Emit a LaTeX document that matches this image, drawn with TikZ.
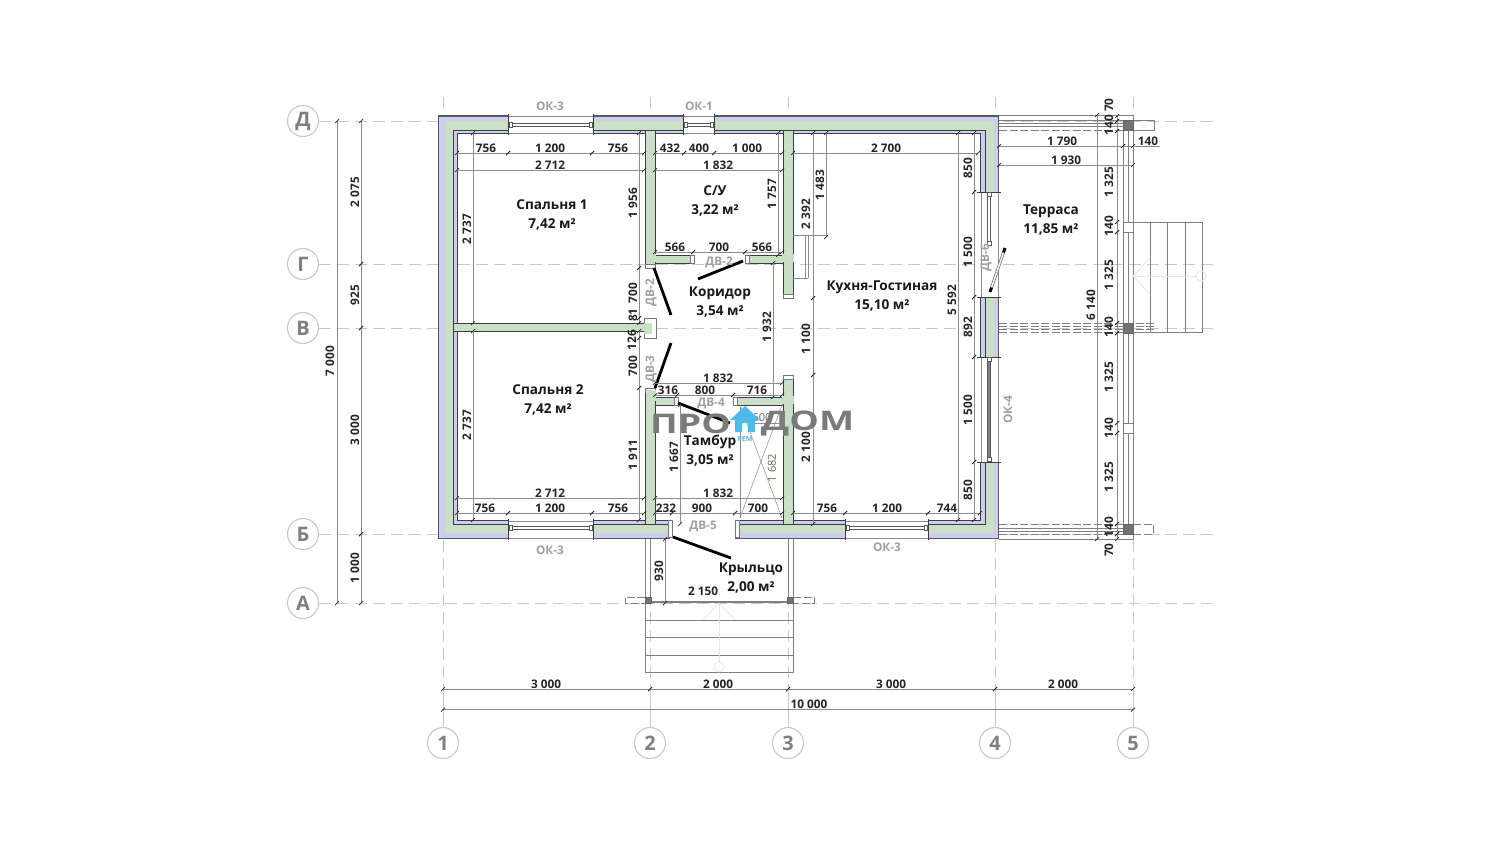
\documentclass[tikz,border=0pt]{standalone}
\usepackage{fontspec}
\newfontfamily\dimfont{Open Sans}
\newfontfamily\markfont{Open Sans}[FakeStretch=1.38]
\newfontfamily\lightfont{Open Sans}
\usetikzlibrary{positioning}
\definecolor{wallgreen}{HTML}{C9E0C6}
\definecolor{walllav}{HTML}{CDCDEC}
\definecolor{walledge}{HTML}{3C3C48}
\definecolor{gridgray}{HTML}{C8C8C8}
\definecolor{taggray}{HTML}{A0A0A0}
\definecolor{stairlight}{HTML}{E4E4E4}
\definecolor{housblue}{HTML}{4FB9E9}
\tikzstyle{gridline} = [draw=gridgray, line width=0.8pt, dash pattern=on 12pt off 6pt]
\tikzstyle{gridsolid} = [draw=gridgray, line width=0.7pt]
\tikzstyle{bubble} = [circle, draw=gridgray, line width=1.1pt, fill=white, minimum size=31pt, inner sep=0pt,
    text=gray, font=\dimfont\bfseries\fontsize{20}{22}\selectfont]
\tikzstyle{wall} = [fill=wallgreen, draw=walledge, line width=0.7pt]
\tikzstyle{wallcap} = [fill=white, draw=walledge!70, line width=0.6pt]
\tikzstyle{thinline} = [draw=black!45, line width=0.5pt]
\tikzstyle{terrace} = [draw=black!50, line width=0.7pt]
\tikzstyle{terdash} = [draw=black!50, line width=0.7pt, dash pattern=on 8pt off 2.5pt]
\tikzstyle{post} = [fill=black!55, draw=black!60, line width=0.5pt]
\tikzstyle{whitepost} = [fill=white, draw=black!50, line width=0.6pt]
\tikzstyle{leaf} = [draw=black, line width=2.8pt]
\tikzstyle{rod} = [fill=white, draw=black!65, line width=0.6pt]
\tikzstyle{dimline} = [draw=black!45, line width=0.55pt]
\tikzstyle{dimtick} = [draw=black!85, line width=0.7pt]
\tikzstyle{dimlabel} = [inner sep=0pt, text=black!85, font=\dimfont\bfseries\fontsize{11.8}{14}\selectfont]
\tikzstyle{room} = [inner sep=0pt, align=center, text=black!90, font=\dimfont\bfseries\fontsize{13.6}{19}\selectfont]
\tikzstyle{tag} = [inner sep=0pt, text=taggray, font=\dimfont\bfseries\fontsize{11.8}{14}\selectfont]
\tikzstyle{faint} = [inner sep=0pt, text=black!60, font=\lightfont\fontsize{11}{12}\selectfont]
\tikzstyle{watermark} = [inner sep=0pt, text=black!52, font=\markfont\bfseries\fontsize{27}{30}\selectfont]
% dimension lines: from, to, position of line, position of text, text
\newcommand{\hdim}[5]{
    \draw [dimline] (#1,#3) -- (#2,#3);
    \draw [dimtick] (#1,#3) +(-2,2) -- +(2,-2);
    \draw [dimtick] (#2,#3) +(-2,2) -- +(2,-2);
    \node [dimlabel] at (#4,#3-4.8) {#5};
}
\newcommand{\vdim}[6][6]{
    \draw [dimline] (#2,#3) -- (#2,#4);
    \draw [dimtick] (#2,#3) +(-2,2) -- +(2,-2);
    \draw [dimtick] (#2,#4) +(-2,2) -- +(2,-2);
    \node [dimlabel, rotate=90] at (#2-#1,#5) {#6};
}
\begin{document}
\begin{tikzpicture}[x=1pt, y=-1pt]
    \useasboundingbox [fill=white] (0,0) rectangle (1500,849);
        % Grid
    \foreach \yy in {121,264,328,534,603}
        \draw [gridline] (319,\yy) -- (1218,\yy);
    \foreach \xx in {443,650,788,995,1133} {
        \draw [gridline] (\xx,97) -- (\xx,116);
        \draw [gridline] (\xx,540) -- (\xx,690);
        \draw [gridsolid] (\xx,690) -- (\xx,728);
    }
    \node [bubble] (rowD) at (303,121) {Д};
    \node [bubble] (rowG) at (303,264) {Г};
    \node [bubble] (rowV) at (303,328) {В};
    \node [bubble] (rowB) at (303,534) {Б};
    \node [bubble] (rowA) at (303,603) {А};
    \node [bubble] (col1) at (443,743) {1};
    \node [bubble] (col2) at (650,743) {2};
    \node [bubble] (col3) at (788,743) {3};
    \node [bubble] (col4) at (995,743) {4};
    \node [bubble] (col5) at (1133,743) {5};
        % Terrace
    \draw [terrace] (999,115.5) -- (1133,115.5) -- (1133,539) -- (999,539);
    \draw [terrace] (999,120) -- (1123,120);
    \draw [terrace] (999,123) -- (1123,123);
    \draw [terrace] (999,126.5) -- (1123,126.5);
    \draw [terdash] (999,130) -- (1123,130);
    \draw [terrace] (1123,130) -- (1123,524);
    \draw [terrace] (1128,130) -- (1128,524);
    \foreach \yy in {323,326,329,332}
        \draw [terdash] (999,\yy) -- (1154,\yy);
    \foreach \yy in {524,534}
        \draw [terdash] (999,\yy) -- (1123,\yy);
    \foreach \yy in {528,531}
        \draw [terrace] (999,\yy) -- (1123,\yy);
    \draw [terrace] (1133,120) -- (1154,120) -- (1154,130) -- (1133,130);
    \draw [terdash] (1133,524) -- (1153,524) -- (1153,534) -- (1133,534);
    \fill [post] (1123,120) rectangle (1133,130);
    \fill [post] (1123,323) rectangle (1133,333);
    \fill [post] (1123,524) rectangle (1133,534);
    \draw [whitepost] (1123,222) rectangle (1133,232);
    \draw [whitepost] (1123,423) rectangle (1133,433);
        % Stairs
    \draw [terrace] (1133,222) -- (1202,222) -- (1202,332) -- (1133,332);
    \foreach \xx in {1150,1167,1185}
        \draw [terrace] (\xx,222) -- (\xx,332);
    \draw [stairlight, line width=0.7pt] (1196,276) -- (1133,276);
    \draw [stairlight, line width=0.7pt] (1150,258) -- (1133,276) -- (1150,294);
    \draw [stairlight, line width=0.7pt] (1201,276) circle (5);
    \draw [terrace] (645,539) -- (645,672) -- (793,672) -- (793,539);
    \draw [terrace] (650,539) -- (650,603);
    \draw [terrace] (788,539) -- (788,603);
    \foreach \yy in {620,637,655}
        \draw [terrace] (645,\yy) -- (793,\yy);
    \draw [stairlight, line width=0.7pt] (719,662) -- (719,603);
    \draw [stairlight, line width=0.7pt] (703,620) -- (719,603) -- (735,620);
    \draw [stairlight, line width=0.7pt] (719,667) circle (5);
    \draw [terdash] (645,597) -- (625,597) -- (625,603) -- (645,603);
    \draw [terdash] (793,597) -- (814,597) -- (814,603) -- (793,603);
    \draw [draw=black!50, line width=1.6pt] (650,602) -- (788,602);
    \fill [post] (645,597) rectangle (651,603);
    \fill [post] (787,597) rectangle (793,603);
        % Outer walls
    \fill [walllav] (438.5,116) rectangle (998.5,538.5);
    \draw [draw=walledge!85, line width=1.4pt] (438.5,116) rectangle (998.5,538.5);
    \fill [wallgreen] (445,121) rectangle (994,533);
    \fill [walllav] (453,130) rectangle (985,524);
    \fill [white] (457,133) rectangle (980,520);
    \draw [draw=walledge, line width=0.9pt] (457,133) rectangle (980,520);
    \draw [draw=walledge, line width=0.6pt] (453,130) rectangle (985,524);
    \foreach \yy in {264,328}
        \draw [gridline] (458,\yy) -- (979,\yy);
        % Openings in horizontal walls
    \foreach \xa/\xb/\ya/\yb/\ra/\rb in {508/593/114/135/123.5/126.5, 683/714/114/135/123.5/126.5,
            508/593/519/540/526.5/529.5, 845/928/519/540/526.5/529.5} {
        \fill [white] (\xa,\ya) rectangle (\xb,\yb);
        \draw [thinline] (\xa,\ya+2) -- (\xb,\ya+2);
        \draw [thinline] (\xa,\yb-2) -- (\xb,\yb-2);
        \draw [draw=walledge, line width=0.8pt] (\xa,\ya) -- (\xa,\yb);
        \draw [draw=walledge, line width=0.8pt] (\xb,\ya) -- (\xb,\yb);
        \draw [rod] (\xa+2,\ra) rectangle (\xb-2,\rb);
        \draw [rod] (\xa+1,\ra-1) rectangle +(3,5);
        \draw [rod] (\xb-4,\ra-1) rectangle +(3,5);
    }
        % Openings in the right wall
    \foreach \ya/\yb in {192/297, 357/462} {
        \fill [white] (978,\ya) rectangle (1001,\yb);
        \draw [thinline] (981,\ya) -- (981,\yb);
        \draw [thinline] (998,\ya) -- (998,\yb);
        \draw [draw=walledge, line width=0.8pt] (977,\ya) -- (1001,\ya);
        \draw [draw=walledge, line width=0.8pt] (977,\yb) -- (1001,\yb);
    }
    \draw [rod] (987.5,195) rectangle (990.5,243);
    \draw [rod] (987,192.5) rectangle +(4,4);
    \draw [rod] (987,241) rectangle +(4,4);
    \draw [fill=black!50, draw=black!65, line width=0.5pt] (987.5,359) rectangle (990.5,460);
    \draw [rod] (987,357.5) rectangle +(4,4);
    \draw [rod] (987,457.5) rectangle +(4,4);
    \draw [draw=black!60, line width=2.8pt] (990,292) -- (1005,248);
    \draw [draw=white, line width=1.4pt] (990.5,290.5) -- (1004.5,249.5);
    \draw [draw=black, line width=2.8pt] (990,292) -- (991.5,287.5);
    \draw [draw=black, line width=2.8pt] (1003.5,252.5) -- (1005,248);
        % Front door opening
    \fill [white] (670,518) rectangle (735,541);
    \draw [wallcap] (668,520) rectangle (672,537);
    \draw [wallcap] (735,520) rectangle (739,537);
        % Inner walls
    \draw [wall] (645,130) rectangle (655,264);
    \draw [wallcap] (645,264) rectangle (655,268);
    \draw [wall] (783,130) rectangle (793,294);
    \draw [wallcap] (783,294) rectangle (793,298);
    \draw [wall] (655,255) rectangle (691,263);
    \draw [wallcap] (690,255) rectangle (694,263);
    \draw [wall] (748,255) rectangle (783,263);
    \draw [wallcap] (745,255) rectangle (749,263);
    \draw [wall] (453,323) rectangle (645,331);
    \draw [wallcap] (644,318) rectangle (656,338);
    \fill [wallgreen] (644,323) rectangle (652,334);
    \draw [wall] (645,392) rectangle (655,524);
    \draw [wallcap] (645,388) rectangle (655,392);
    \draw [wall] (783,379) rectangle (793,524);
    \draw [wallcap] (783,375) rectangle (793,379);
    \draw [wall] (655,397) rectangle (674,405);
    \draw [wallcap] (674,397) rectangle (678,405);
    \draw [wall] (736,397) rectangle (783,405);
    \draw [wallcap] (733,397) rectangle (737,405);
    \fill [wallgreen] (646,390) rectangle (656,401);
    \fill [wallgreen] (646,254) rectangle (656,262);
    \fill [wallgreen] (782,254) rectangle (794,262);
    \fill [wallgreen] (782,396) rectangle (794,404);
        % Door leaves
    \draw [leaf] (654,268) -- (671,315);
    \draw [leaf] (671,343) -- (655,388);
    \draw [leaf] (743,261) -- (698,279);
    \draw [leaf] (678,403) -- (730,423);
    \draw [leaf] (673,537) -- (731,558);
        % Closet
    \draw [thinline] (740,405) -- (740,518);
    \draw [thinline] (740,405) -- (782,518);
    \draw [thinline] (740,518) -- (782,405);
    \draw [thinline] (748,423) -- (782,423);
        % Kitchen niche
    \draw [thinline] (793,235) -- (826,235);
    \draw [thinline] (793,278) -- (808,278);
    \draw [thinline] (805,235) -- (805,278);
    \draw [thinline] (808,235) -- (808,278);
        % Outer dimensions
    \hdim{443}{650}{689}{546}{3 000}
    \hdim{650}{788}{689}{718}{2 000}
    \hdim{788}{995}{689}{891}{3 000}
    \hdim{995}{1133}{689}{1063}{2 000}
    \hdim{443}{1133}{709.5}{809}{10 000}
    \vdim[7]{337}{121}{603}{361}{7 000}
    \vdim{361}{121}{264}{192}{2 075}
    \vdim{361}{264}{328}{295}{925}
    \vdim{361}{328}{534}{430}{3 000}
    \vdim{361}{534}{603}{568}{1 000}
        % Spalnya 1
    \hdim{457}{508}{153}{486}{756}
    \hdim{508}{592}{153}{550}{1 200}
    \hdim{592}{644}{153}{618}{756}
    \hdim{457}{644}{170}{550}{2 712}
    \vdim{473}{133}{323}{229}{2 737}
    \vdim{639}{133}{268}{203}{1 956}
    \vdim{639}{268}{318}{293}{700}
    \vdim{639}{318}{323}{315}{81}
        % Spalnya 2
    \hdim{457}{644}{498}{550}{2 712}
    \hdim{457}{508}{513}{485}{756}
    \hdim{508}{592}{513}{550}{1 200}
    \hdim{592}{644}{513}{618}{756}
    \vdim{473}{331}{520}{425}{2 737}
    \vdim[7]{639}{331}{338}{340}{126}
    \vdim{639}{338}{388}{366}{700}
    \vdim{639}{388}{520}{455}{1 911}
        % C/U
    \hdim{655}{684}{153}{670}{432}
    \hdim{684}{714}{153}{699}{400}
    \hdim{714}{782}{153}{747}{1 000}
    \hdim{655}{782}{170}{718}{1 832}
    \hdim{655}{693}{252}{675}{566}
    \hdim{693}{745}{252}{719}{700}
    \hdim{745}{782}{252}{762}{566}
    \vdim{778}{133}{255}{194}{1 757}
        % Koridor and Tambur
    \vdim{773}{263}{397}{327}{1 932}
    \hdim{655}{782}{383}{718}{1 832}
    \hdim{655}{677}{395}{668}{316}
    \hdim{677}{733}{395}{705}{800}
    \hdim{733}{782}{395}{757}{716}
    \vdim{680}{405}{524}{457}{1 667}
    \hdim{655}{782}{498}{718}{1 832}
    \hdim{655}{672}{513}{666}{232}
    \hdim{672}{735}{513}{702}{900}
    \hdim{735}{782}{513}{758}{700}
        % Kitchen
    \hdim{793}{978}{153}{886}{2 700}
    \hdim{793}{845}{513}{827}{756}
    \hdim{845}{928}{513}{887}{1 200}
    \hdim{928}{980}{513}{947}{744}
    \vdim[7]{813}{133}{298}{214}{2 392}
    \vdim[7]{813}{298}{375}{339}{1 100}
    \vdim[7]{813}{375}{524}{447}{2 100}
    \vdim{826}{133}{237}{185}{1 483}
    \vdim{958}{133}{520}{300}{5 592}
    \vdim{974}{133}{192}{168}{850}
    \vdim{974}{192}{297}{252}{1 500}
    \vdim{974}{297}{357}{327}{892}
    \vdim{974}{357}{462}{410}{1 500}
    \vdim{974}{462}{520}{490}{850}
        % Terrace dimensions
    \hdim{999}{1123}{146}{1062}{1 790}
    \hdim{1123}{1133}{146}{1148}{140}
    \draw [dimline] (1133,146) -- (1160,146);
    \hdim{999}{1133}{165}{1066}{1 930}
    \vdim{1097}{115}{539}{305}{6 140}
    \vdim[8]{1117}{116}{121}{105}{70}
    \vdim[8]{1117}{121}{131}{125}{140}
    \vdim[8]{1117}{131}{222}{182}{1 325}
    \vdim[8]{1117}{222}{232}{226}{140}
    \vdim[8]{1117}{232}{323}{275}{1 325}
    \vdim[8]{1117}{323}{333}{327}{140}
    \vdim[8]{1117}{333}{423}{377}{1 325}
    \vdim[8]{1117}{423}{433}{428}{140}
    \vdim[8]{1117}{433}{524}{477}{1 325}
    \vdim[8]{1117}{524}{534}{527}{140}
    \vdim[8]{1117}{534}{539}{550}{70}
        % Porch dimensions
    \vdim{665}{539}{603}{571}{930}
    \node [dimlabel] (porchw) at (703,591.7) {2 150};
        % Rooms
    \node [room] (spalnya1) at (552,214.5) {Спальня 1\\7,42 м²};
    \node [room] (spalnya2) at (548,399.5) {Спальня 2\\7,42 м²};
    \node [room] (su) at (715,200.5) {С/У\\3,22 м²};
    \node [room] (koridor) at (720,302.5) {Коридор\\3,54 м²};
    \node [room] (kuhnya) at (882,296.5) {Кухня-Гостиная\\15,10 м²};
    \node [room] (terrasa) at (1051,220.5) {Терраса\\11,85 м²};
    \node [room] (krylco) at (751,578.5) {Крыльцо\\2,00 м²};
        % Tags
    \node [tag] (okn1) at (550,106.7) {ОК-3};
    \node [tag] (okn2) at (699,106.7) {ОК-1};
    \node [tag] (okn3) at (550,550.7) {ОК-3};
    \node [tag] (okn4) at (887,547.7) {ОК-3};
    \node [tag, rotate=90] (okn5) at (1008,410) {ОК-4};
    \node [tag] (dv2a) at (719,262.7) {ДВ-2};
    \node [tag, rotate=90] (dv2b) at (651,293) {ДВ-2};
    \node [tag, rotate=90] (dv3) at (651,369) {ДВ-3};
    \node [tag] (dv4) at (711,403.7) {ДВ-4};
    \node [tag] (dv5) at (703,526.7) {ДВ-5};
    \node [tag, rotate=90] (dv6) at (986,258) {ДВ-6};
    \node [faint] (sz600) at (762,418) {600};
    \node [faint, rotate=90] (sz1682) at (772,468) {1 682};
        % Watermark
    \node [watermark] (markl) at (690.5,424) {ПРО};
    \node [watermark] (markr) at (807.5,424) {ДОМ};
    \fill [housblue] (730,420) -- (745,406) -- (760,420) -- (755,420) -- (755,432) -- (748,432) -- (748,423) -- (742,423) -- (742,432) -- (735,432) -- (735,420) -- cycle;
    \node [inner sep=0pt, text=housblue, font=\dimfont\bfseries\fontsize{7}{8}\selectfont] (markrem) at (745,438.5) {РЕМ};
    \node [room] (tambur) at (710,450.5) {Тамбур\\3,05 м²};
\end{tikzpicture}
\end{document}
